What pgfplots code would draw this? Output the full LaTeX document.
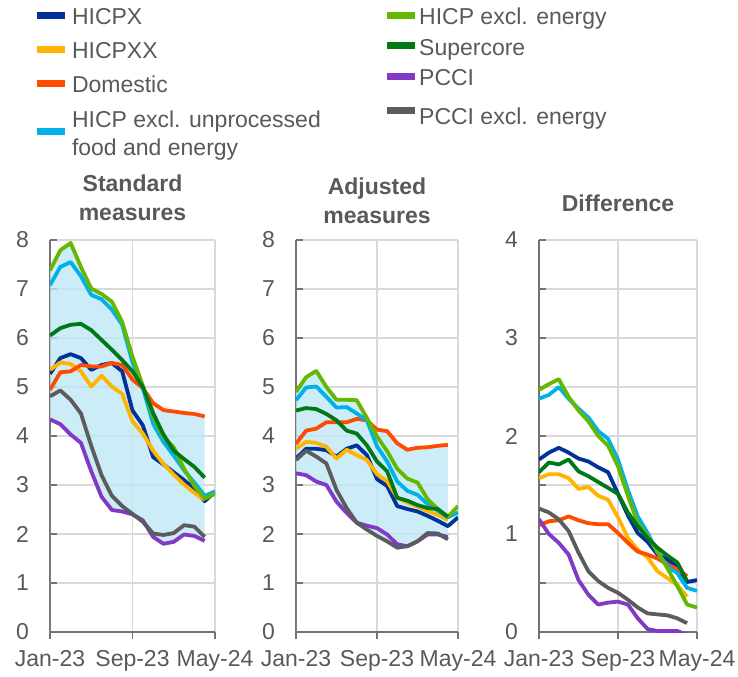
\documentclass[border=0pt]{standalone}
\usepackage{pgfplots}
\pgfplotsset{compat=1.18}
\usepackage{fontspec}
\setmainfont{Liberation Sans}
\definecolor{cHICPX}{HTML}{003299}
\definecolor{cHICPXX}{HTML}{FFB400}
\definecolor{cDom}{HTML}{FF4B00}
\definecolor{cUnp}{HTML}{00B1EA}
\definecolor{cEne}{HTML}{65B800}
\definecolor{cSup}{HTML}{007816}
\definecolor{cPCCI}{HTML}{8139C6}
\definecolor{cPCCIe}{HTML}{5C5C5C}
\definecolor{shade}{HTML}{BFE7F6}
\definecolor{gridgray}{HTML}{D9D9D9}
\definecolor{axisgray}{HTML}{737373}
\definecolor{textgray}{HTML}{595959}
\newcommand{\rA}{\rule{0pt}{10.9pt}}
\pgfplotsset{
  panel/.style={
    scale only axis, height=196pt,
    xmin=0, xmax=16, xtick={0,8,16}, xticklabels={Jan-23,Sep-23,May-24},
    axis x line*=bottom, axis y line*=left,
    axis line style={draw=axisgray, line width=0.8pt, -},
    xmajorgrids, ymajorgrids,
    major grid style={draw=gridgray, line width=0.6pt},
    minor grid style={draw=gridgray, line width=0.6pt},
    tick style={draw=axisgray, line width=0.8pt},
    major tick length=3.5pt, minor tick length=3.5pt,
    xtick align=outside, ytick align=inside,
    ticklabel style={font=\fontsize{11.5}{13.8}\selectfont, text=textgray},
    /pgf/number format/assume math mode=true,
    yticklabel style={xshift=-7pt},
    xticklabel style={yshift=-2pt},
    title style={font=\bfseries\fontsize{11.5}{14.5}\selectfont, text=textgray, align=center, at={(0.5,1)}, anchor=south, inner sep=0pt},
    every axis plot/.append style={line width=1.9pt, line join=round},
    legend image code/.code={\draw[line width=3.5pt] (0pt,0pt) -- (14pt,0pt);},
    legend style={draw=none, fill=none, inner sep=0pt, outer sep=0pt,
      font=\fontsize{11.5}{14}\selectfont, text=textgray,
      cells={anchor=west, align=left}, nodes={inner sep=0.5pt}},
  },
}
\begin{document}
\begin{tikzpicture}
\useasboundingbox (0,0) rectangle (369pt,338pt);
% ---------------- Standard measures
\begin{axis}[panel, at={(25pt,22pt)}, anchor=south west, width=82.5pt,
  ymin=0, ymax=8, ytick={0,1,...,8},
  title={Standard\\measures}, title style={yshift=3.5pt},
  legend style={at={(-0.103,1.608)}, anchor=north west, row sep=3.7pt,
    /tikz/every odd column/.append style={column sep=1.5pt}}]
\addplot[fill=shade, fill opacity=0.8, draw=none, forget plot] coordinates {(0,7.38)(1,7.79)(2,7.94)(3,7.45)(4,7.01)(5,6.90)(6,6.74)(7,6.33)(8,5.62)(9,5.03)(10,4.67)(11,4.53)(12,4.50)(13,4.47)(14,4.45)(15,4.40)(15,1.86)(14,1.96)(13,1.99)(12,1.84)(11,1.80)(10,1.94)(9,2.25)(8,2.40)(7,2.46)(6,2.49)(5,2.76)(4,3.28)(3,3.86)(2,4.03)(1,4.24)(0,4.34)} \closedcycle;
\addplot[cHICPX] coordinates {(0,5.27)(1,5.59)(2,5.67)(3,5.59)(4,5.35)(5,5.45)(6,5.49)(7,5.32)(8,4.52)(9,4.22)(10,3.57)(11,3.42)(12,3.26)(13,3.10)(14,2.92)(15,2.67)(16,2.86)};
\addlegendentry{\rA HICPX}
\addplot[cHICPXX] coordinates {(0,5.35)(1,5.50)(2,5.47)(3,5.32)(4,5.01)(5,5.23)(6,5.01)(7,4.86)(8,4.30)(9,4.05)(10,3.70)(11,3.43)(12,3.21)(13,3.01)(14,2.84)(15,2.70)};
\addlegendentry{\rA HICPXX}
\addplot[cDom] coordinates {(0,4.94)(1,5.30)(2,5.32)(3,5.45)(4,5.42)(5,5.42)(6,5.49)(7,5.45)(8,5.15)(9,4.98)(10,4.67)(11,4.53)(12,4.50)(13,4.47)(14,4.45)(15,4.40)};
\addlegendentry{\rA Domestic}
\addplot[cUnp] coordinates {(0,7.08)(1,7.45)(2,7.55)(3,7.26)(4,6.88)(5,6.79)(6,6.58)(7,6.27)(8,5.50)(9,4.98)(10,4.25)(11,3.88)(12,3.60)(13,3.30)(14,3.05)(15,2.78)(16,2.87)};
\addlegendentry{\rA HICP excl. unprocessed\\\strut food and energy}
\addplot[cEne, forget plot] coordinates {(0,7.38)(1,7.79)(2,7.94)(3,7.45)(4,7.01)(5,6.90)(6,6.74)(7,6.33)(8,5.62)(9,5.03)(10,4.40)(11,3.98)(12,3.77)(13,3.33)(14,2.98)(15,2.72)(16,2.82)};
\addplot[cSup, forget plot] coordinates {(0,6.05)(1,6.20)(2,6.27)(3,6.29)(4,6.16)(5,5.96)(6,5.76)(7,5.55)(8,5.32)(9,5.00)(10,4.47)(11,4.03)(12,3.70)(13,3.53)(14,3.37)(15,3.15)};
\addplot[cPCCI, forget plot] coordinates {(0,4.34)(1,4.24)(2,4.03)(3,3.86)(4,3.28)(5,2.76)(6,2.49)(7,2.46)(8,2.40)(9,2.28)(10,1.94)(11,1.80)(12,1.84)(13,1.99)(14,1.96)(15,1.86)};
\addplot[cPCCIe, forget plot] coordinates {(0,4.81)(1,4.93)(2,4.74)(3,4.46)(4,3.80)(5,3.20)(6,2.78)(7,2.57)(8,2.41)(9,2.25)(10,2.01)(11,1.98)(12,2.02)(13,2.18)(14,2.15)(15,1.94)};
\end{axis}
% ---------------- Adjusted measures
\begin{axis}[panel, at={(148pt,22pt)}, anchor=south west, width=81pt,
  ymin=0, ymax=8, ytick={0,1,...,8},
  title={Adjusted\\measures}, title style={yshift=2pt},
  legend style={at={(0.538,1.608)}, anchor=north west, row sep=1.9pt}]
\addplot[fill=shade, fill opacity=0.8, draw=none, forget plot] coordinates {(0,4.90)(1,5.20)(2,5.33)(3,5.00)(4,4.74)(5,4.74)(6,4.73)(7,4.37)(8,4.13)(9,4.10)(10,3.85)(11,3.72)(12,3.76)(13,3.77)(14,3.80)(15,3.82)(15,1.89)(14,1.99)(13,1.99)(12,1.85)(11,1.75)(10,1.72)(9,1.85)(8,1.96)(7,2.09)(6,2.23)(5,2.43)(4,2.66)(3,3.00)(2,3.07)(1,3.20)(0,3.24)} \closedcycle;
\addplot[cHICPX, forget plot] coordinates {(0,3.54)(1,3.74)(2,3.74)(3,3.71)(4,3.58)(5,3.74)(6,3.81)(7,3.61)(8,3.12)(9,2.98)(10,2.57)(11,2.51)(12,2.46)(13,2.37)(14,2.27)(15,2.16)(16,2.34)};
\addplot[cHICPXX, forget plot] coordinates {(0,3.74)(1,3.88)(2,3.86)(3,3.78)(4,3.54)(5,3.72)(6,3.61)(7,3.51)(8,3.22)(9,3.08)(10,2.74)(11,2.64)(12,2.56)(13,2.47)(14,2.39)(15,2.29)};
\addplot[cDom, forget plot] coordinates {(0,3.84)(1,4.11)(2,4.15)(3,4.28)(4,4.28)(5,4.28)(6,4.35)(7,4.32)(8,4.13)(9,4.10)(10,3.85)(11,3.72)(12,3.76)(13,3.77)(14,3.80)(15,3.82)};
\addplot[cUnp, forget plot] coordinates {(0,4.73)(1,4.99)(2,5.01)(3,4.80)(4,4.58)(5,4.59)(6,4.46)(7,4.32)(8,3.79)(9,3.48)(10,3.07)(11,2.88)(12,2.80)(13,2.61)(14,2.48)(15,2.34)(16,2.44)};
\addplot[cEne] coordinates {(0,4.90)(1,5.20)(2,5.33)(3,5.00)(4,4.74)(5,4.74)(6,4.73)(7,4.37)(8,3.99)(9,3.69)(10,3.33)(11,3.13)(12,3.05)(13,2.71)(14,2.51)(15,2.35)(16,2.57)};
\addlegendentry{\rA HICP excl. energy}
\addplot[cSup] coordinates {(0,4.52)(1,4.57)(2,4.55)(3,4.45)(4,4.32)(5,4.11)(6,4.05)(7,3.81)(8,3.48)(9,3.28)(10,2.74)(11,2.68)(12,2.59)(13,2.53)(14,2.51)(15,2.35)};
\addlegendentry{\rA Supercore}
\addplot[cPCCI] coordinates {(0,3.24)(1,3.20)(2,3.07)(3,3.00)(4,2.66)(5,2.43)(6,2.23)(7,2.17)(8,2.12)(9,1.99)(10,1.79)(11,1.75)(12,1.85)(13,1.99)(14,1.99)(15,1.94)};
\addlegendentry{\rA PCCI}
\addplot[cPCCIe] coordinates {(0,3.51)(1,3.70)(2,3.58)(3,3.44)(4,2.90)(5,2.53)(6,2.23)(7,2.09)(8,1.96)(9,1.85)(10,1.72)(11,1.75)(12,1.85)(13,2.02)(14,2.01)(15,1.89)};
\addlegendentry{\rule{0pt}{14.9pt}PCCI excl. energy}
\end{axis}
% ---------------- Difference
\begin{axis}[panel, at={(269.5pt,22pt)}, anchor=south west, width=79pt,
  ymin=0, ymax=4, ytick={0,1,...,4}, minor ytick={0.5,1.5,2.5,3.5}, yminorgrids,
  title={Difference}, title style={yshift=8pt}]
\addplot[cHICPX] coordinates {(0,1.76)(1,1.83)(2,1.88)(3,1.83)(4,1.77)(5,1.74)(6,1.68)(7,1.63)(8,1.41)(9,1.19)(10,1.01)(11,0.92)(12,0.79)(13,0.74)(14,0.67)(15,0.51)(16,0.53)};
\addplot[cHICPXX] coordinates {(0,1.57)(1,1.61)(2,1.61)(3,1.57)(4,1.46)(5,1.48)(6,1.39)(7,1.35)(8,1.17)(9,0.96)(10,0.84)(11,0.76)(12,0.62)(13,0.55)(14,0.48)(15,0.36)};
\addplot[cDom] coordinates {(0,1.09)(1,1.13)(2,1.14)(3,1.18)(4,1.14)(5,1.11)(6,1.10)(7,1.10)(8,1.01)(9,0.91)(10,0.82)(11,0.79)(12,0.75)(13,0.69)(14,0.64)(15,0.57)};
\addplot[cUnp] coordinates {(0,2.38)(1,2.42)(2,2.50)(3,2.38)(4,2.28)(5,2.19)(6,2.05)(7,1.97)(8,1.76)(9,1.45)(10,1.18)(11,1.01)(12,0.81)(13,0.67)(14,0.60)(15,0.45)(16,0.42)};
\addplot[cEne] coordinates {(0,2.47)(1,2.53)(2,2.58)(3,2.40)(4,2.26)(5,2.15)(6,2.00)(7,1.90)(8,1.69)(9,1.39)(10,1.11)(11,0.98)(12,0.82)(13,0.65)(14,0.47)(15,0.28)(16,0.25)};
\addplot[cSup] coordinates {(0,1.63)(1,1.73)(2,1.71)(3,1.76)(4,1.64)(5,1.59)(6,1.53)(7,1.47)(8,1.41)(9,1.22)(10,1.08)(11,0.96)(12,0.86)(13,0.78)(14,0.71)(15,0.52)};
\addplot[cPCCI] coordinates {(0,1.15)(1,1.00)(2,0.91)(3,0.79)(4,0.53)(5,0.38)(6,0.28)(7,0.30)(8,0.31)(9,0.28)(10,0.14)(11,0.03)(12,0.01)(13,0.01)(14,0.01)(15,-0.03)};
\addplot[cPCCIe] coordinates {(0,1.26)(1,1.22)(2,1.15)(3,1.03)(4,0.81)(5,0.62)(6,0.52)(7,0.45)(8,0.40)(9,0.33)(10,0.25)(11,0.19)(12,0.18)(13,0.17)(14,0.14)(15,0.09)};
\end{axis}
\end{tikzpicture}
\end{document}
